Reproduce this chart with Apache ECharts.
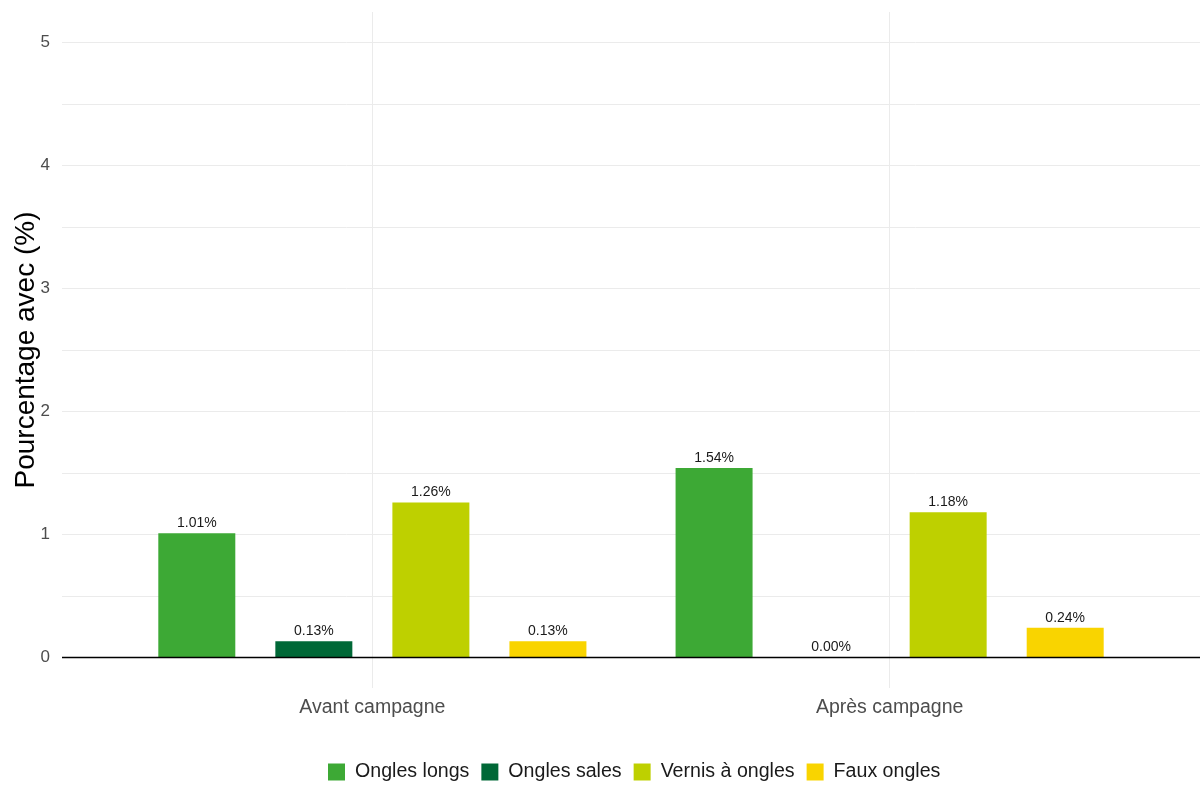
<!DOCTYPE html>
<html>
<head>
<meta charset="utf-8">
<script src="https://cdn.jsdelivr.net/npm/echarts@6/dist/echarts.min.js"></script>
<style>
  html, body { margin: 0; padding: 0; background: #ffffff; }
  #chart { width: 1201px; height: 785px; }
</style>
</head>
<body>
<div id="chart"></div>
<script>
// Périodes comparées (positions 1 et 2 sur l'axe horizontal)
const categories = ['Avant campagne', 'Après campagne'];

// Pourcentage d'élèves concernés par chaque observation
const onglesLongs = [1.01, 1.54];
const onglesSales = [0.13, 0.00];
const vernis = [1.26, 1.18];
const fauxOngles = [0.13, 0.24];

const seriesNames = ['Ongles longs', 'Ongles sales', 'Vernis à ongles', 'Faux ongles'];
const seriesColors = ['#3da935', '#006837', '#bed000', '#f9d400'];

// Graduations de l'axe vertical
const yTickLabels = [0, 1, 2, 3, 4, 5];
const yGridValues = [0, 0.5, 1, 1.5, 2, 2.5, 3, 3.5, 4, 4.5, 5];

const values = [onglesLongs, onglesSales, vernis, fauxOngles];
const font = 'Liberation Sans, Arial, sans-serif';

const series = seriesNames.map((name, i) => ({
  name: name,
  type: 'bar',
  data: values[i].map((v, j) => [j + 1, v]),
  barWidth: 77,
  barGap: '52%',
  itemStyle: { color: seriesColors[i] },
  label: {
    show: true,
    position: 'top',
    distance: 3,
    fontFamily: font,
    fontSize: 14,
    color: '#1a1a1a',
    formatter: p => p.value[1].toFixed(2) + '%'
  },
  markLine: i === 0 ? {
    silent: true,
    symbol: 'none',
    label: { show: false },
    lineStyle: { color: '#000000', width: 1.3, type: 'solid' },
    data: [{ yAxis: 0 }]
  } : undefined
}));

const chart = echarts.init(document.getElementById('chart'), null, { renderer: 'canvas' });
chart.setOption({
  animation: false,
  backgroundColor: '#ffffff',
  textStyle: { fontFamily: font },
  grid: { left: 62, right: 1, top: 12, bottom: 97, containLabel: false, outerBoundsMode: 'none' },
  legend: {
    data: seriesNames,
    top: 757,
    left: 323,
    icon: 'rect',
    itemWidth: 17,
    itemHeight: 17,
    itemGap: 12,
    textStyle: { fontFamily: font, fontSize: 19.6, color: '#1a1a1a', padding: [0, 0, 0, 5] }
  },
  xAxis: {
    type: 'value',
    min: 0.4,
    max: 2.6,
    axisLine: { show: false },
    axisTick: { show: false, customValues: [1, 2] },
    splitLine: { show: true, lineStyle: { color: '#ebebeb', width: 1 } },
    axisLabel: {
      customValues: [1, 2],
      margin: 10,
      fontFamily: font,
      fontSize: 19.5,
      color: '#4d4d4d',
      formatter: v => categories[Math.round(v) - 1]
    }
  },
  yAxis: {
    type: 'value',
    min: -0.25,
    max: 5.25,
    name: 'Pourcentage avec (%)',
    nameLocation: 'middle',
    nameGap: 22,
    nameMoveOverlap: false,
    nameTextStyle: { fontFamily: font, fontSize: 28, color: '#000000' },
    axisLine: { show: false },
    axisTick: { show: false, customValues: yGridValues },
    splitLine: { show: true, lineStyle: { color: '#ebebeb', width: 1 } },
    axisLabel: {
      customValues: yTickLabels,
      margin: 12,
      fontFamily: font,
      fontSize: 17,
      color: '#4d4d4d'
    }
  },
  series: series
});
</script>
</body>
</html>
